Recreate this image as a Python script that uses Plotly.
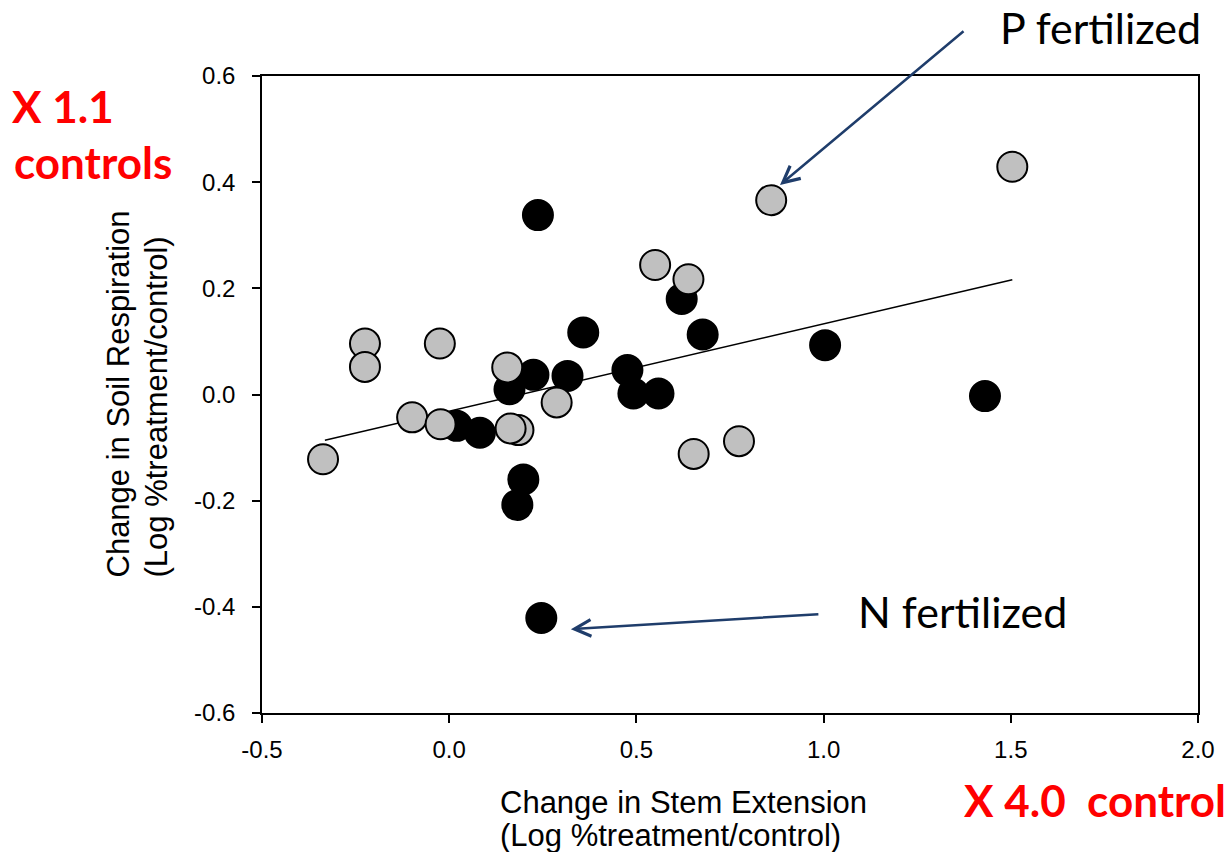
import plotly.graph_objects as go

# Data
grey_x = [-0.337, -0.225, -0.225, -0.025, -0.099, -0.023, 0.155, 0.185, 0.164, 0.287,
          0.550, 0.639, 0.653, 0.774, 0.860, 1.504]
grey_y = [-0.122, 0.096, 0.052, 0.096, -0.043, -0.056, 0.051, -0.067, -0.064, -0.015,
          0.244, 0.217, -0.112, -0.088, 0.366, 0.429]

black_x = [0.358, 0.225, 0.161, 0.316, 0.020, 0.082, 0.198, 0.182, 0.237, 0.246,
           0.476, 0.492, 0.559, 0.621, 0.677, 1.004, 1.431]
black_y = [0.117, 0.037, 0.010, 0.035, -0.059, -0.072, -0.160, -0.208, 0.338, -0.421,
           0.046, 0.002, 0.002, 0.180, 0.113, 0.093, -0.003]

fit_x = [-0.332, 1.504]
fit_y = [-0.086, 0.216]

x_ticks = [-0.5, 0.0, 0.5, 1.0, 1.5, 2.0]
y_ticks = [-0.6, -0.4, -0.2, 0.0, 0.2, 0.4, 0.6]

x_title = ["Change in Stem Extension", "(Log %treatment/control)"]
y_title = ["Change in Soil Respiration", "(Log %treatment/control)"]

W, H = 1227, 852
L, R, T, B = 262, 1198, 76, 713


def px(xp):
    return (xp - L) / (R - L)


def py(yp):
    return (B - yp) / (B - T)


fig = go.Figure()
fig.add_trace(go.Scatter(x=fit_x, y=fit_y, mode="lines",
                         line=dict(color="black", width=1.5), showlegend=False))
fig.add_trace(go.Scatter(x=black_x, y=black_y, mode="markers",
                         marker=dict(size=30, color="black",
                                     line=dict(color="black", width=2)),
                         showlegend=False))
fig.add_trace(go.Scatter(x=grey_x, y=grey_y, mode="markers",
                         marker=dict(size=30, color="#c0c0c0",
                                     line=dict(color="black", width=2)),
                         showlegend=False))

axis_font = dict(family="Arial, Liberation Sans", size=24, color="black")

fig.update_xaxes(range=[-0.5, 2.0], tickvals=x_ticks,
                 ticktext=[f"{v:.1f}" for v in x_ticks],
                 showgrid=False, zeroline=False, showline=True, linecolor="black",
                 linewidth=1.5, mirror=True, ticks="outside", ticklen=8,
                 tickwidth=1.5, tickcolor="black", tickfont=axis_font,
                 ticklabelstandoff=6)
fig.update_yaxes(range=[-0.6, 0.6], tickvals=y_ticks,
                 ticktext=[f"{v:.1f}" for v in y_ticks],
                 showgrid=False, zeroline=False, showline=True, linecolor="black",
                 linewidth=1.5, mirror=True, ticks="outside", ticklen=8,
                 tickwidth=1.5, tickcolor="black", tickfont=axis_font,
                 ticklabelstandoff=12)

title_font = dict(family="Arial, Liberation Sans", size=31, color="black")
label_font = dict(family="Lato, Open Sans", size=43, color="black")
red_font = dict(family="Lato, Open Sans", size=44, color="#ff0000")

annotations = [
    dict(text=x_title[0], xref="paper", yref="paper", x=px(498), y=py(802),
         xanchor="left", yanchor="middle", showarrow=False, font=title_font),
    dict(text=x_title[1], xref="paper", yref="paper", x=px(498), y=py(835),
         xanchor="left", yanchor="middle", showarrow=False, font=title_font),
    dict(text=y_title[0], xref="paper", yref="paper", x=px(118), y=py(580),
         xanchor="center", yanchor="bottom", textangle=-90,
         showarrow=False, font=title_font),
    dict(text=y_title[1], xref="paper", yref="paper", x=px(156), y=py(580),
         xanchor="center", yanchor="bottom", textangle=-90,
         showarrow=False, font=title_font),
    dict(text="<b>X 1.1</b>", xref="paper", yref="paper", x=px(10), y=py(106),
         xanchor="left", yanchor="middle", showarrow=False, font=red_font),
    dict(text="<b>controls</b>", xref="paper", yref="paper", x=px(12), y=py(162),
         xanchor="left", yanchor="middle", showarrow=False, font=red_font),
    dict(text="<b>X 4.0  control</b>", xref="paper", yref="paper", x=px(962), y=py(800),
         xanchor="left", yanchor="middle", showarrow=False, font=red_font),
    dict(text="P fertilized", xref="paper", yref="paper", x=px(998), y=py(27),
         xanchor="left", yanchor="middle", showarrow=False, font=label_font),
    dict(text="N fertilized", xref="paper", yref="paper", x=px(856), y=py(611),
         xanchor="left", yanchor="middle", showarrow=False, font=label_font),
    dict(text="", x=0.8836, y=0.3947, xref="x", yref="y", ax=185, ay=-155,
         showarrow=True, arrowhead=5, arrowsize=1.3, arrowwidth=2.5,
         arrowcolor="#1f3d6b"),
    dict(text="", x=0.325, y=-0.442, xref="x", yref="y", ax=249, ay=-15,
         showarrow=True, arrowhead=5, arrowsize=1.3, arrowwidth=2.5,
         arrowcolor="#1f3d6b"),
]

fig.update_layout(width=W, height=H, paper_bgcolor="white", plot_bgcolor="white",
                  margin=dict(l=L, r=W - R, t=T, b=H - B),
                  annotations=annotations, showlegend=False)

fig.write_html("out.html")
